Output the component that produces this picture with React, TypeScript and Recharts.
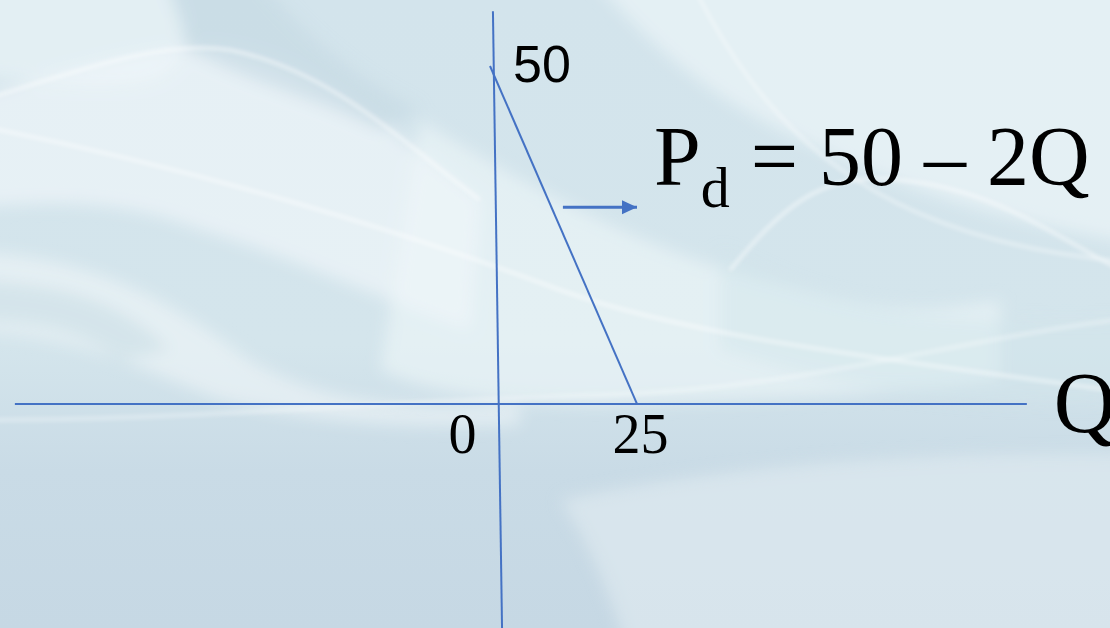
import React from "react";
import { ComposedChart, Line, XAxis, YAxis, ReferenceDot } from "recharts";

// Demand curve P = 50 - 2Q
const demandQ = [0, 25];
const demandP = [50, 0];
// Axis lines, in chart units
const horizAxisQ = [-80.8, 91.3];
const horizAxisP = [0, 0];
const vertAxisQ = [0.5, 2.05];
const vertAxisP = [58.1, -33.2];
// Arrow pointing to the equation
const arrowQ = [12.4, 25];
const arrowP = [29.1, 29.1];
// Tick labels
const xTickValues = [0, 25];
const xTickLabels = ["0", "25"];
const yTickValues = [50];
const yTickLabels = ["50"];
const axisName = "Q";
const equationMain = "P";
const equationSub = "d";
const equationRest = " = 50 – 2Q";

const zip = (qs: number[], ps: number[]) => qs.map((q, i) => ({ q, p: ps[i] }));
const demand = zip(demandQ, demandP);
const hAxis = zip(horizAxisQ, horizAxisP);
const vAxis = zip(vertAxisQ, vertAxisP);
const arrow = zip(arrowQ, arrowP);

const W = 1110;
const H = 628;
const BLUE = "#4472C4";
const SERIF = "'Liberation Serif', 'Times New Roman', serif";
const SANS = "'Liberation Sans', Arial, sans-serif";

const Background = () => (
  <svg width={W} height={H} style={{ position: "absolute", left: 0, top: 0 }}>
    <defs>
      <linearGradient id="bg" x1="0" y1="0" x2="0" y2="1">
        <stop offset="0" stopColor="#d3e4ec" />
        <stop offset="0.55" stopColor="#d4e5ec" />
        <stop offset="0.75" stopColor="#c9dbe6" />
        <stop offset="1" stopColor="#c6d8e4" />
      </linearGradient>
      <filter id="blur" x="-20%" y="-20%" width="140%" height="140%"><feGaussianBlur stdDeviation="8" /></filter>
      <filter id="blur2"><feGaussianBlur stdDeviation="2" /></filter>
    </defs>
    <rect width={W} height={H} fill="url(#bg)" />
    <g filter="url(#blur)">
      <path d="M-60 -60 L150 -60 C 190 30, 200 60, 150 80 C 100 90, 40 80, -60 75 Z" fill="#eaf4f7" opacity="0.7" />
      <path d="M-60 105 C 80 70, 160 40, 230 50 C 330 70, 400 140, 480 200 L 470 330 C 380 300, 300 260, 200 230 C 120 200, 60 200, -60 210 Z" fill="#f4f9fb" opacity="0.6" />
      <path d="M420 120 C 520 180, 620 240, 760 280 C 850 300, 900 320, 1000 300 L 1000 380 C 850 400, 700 400, 600 405 C 500 405, 420 390, 380 370 Z" fill="#eef6f8" opacity="0.6" />
      <path d="M560 -60 L1170 -60 L1170 250 C 980 220, 880 180, 780 130 C 700 90, 640 40, 560 -60 Z" fill="#f3f9fb" opacity="0.55" />
      <path d="M-60 250 C 90 250, 170 300, 250 360 C 320 400, 400 410, 520 405 L 520 425 C 400 430, 300 420, 220 400 C 140 370, 80 330, -60 330 Z" fill="#f2f8fa" opacity="0.55" />
      <path d="M560 500 C 750 460, 950 450, 1170 455 L1170 690 L640 690 C 610 590, 590 545, 560 500 Z" fill="#e2edf2" opacity="0.6" />
      <path d="M150 -60 L 230 -60 C 300 40, 360 80, 420 110 L 380 130 C 320 100, 240 80, 190 50 Z" fill="#c5d9e3" opacity="0.6" />
      <path d="M-60 280 C 60 280, 120 300, 170 350 L 120 360 C 80 330, 40 320, -60 320 Z" fill="#c6d9e4" opacity="0.5" />
      <path d="M720 250 C 820 300, 900 330, 1170 320 L 1170 400 C 950 410, 850 390, 720 350 Z" fill="#d1e6ec" opacity="0.5" />
    </g>
    <g filter="url(#blur2)">
      <path d="M-20 126 C 200 170, 400 230, 560 290 C 700 340, 900 360, 1130 393" stroke="#ffffff" strokeOpacity="0.6" strokeWidth="3" fill="none" />
      <path d="M730 270 C 780 210, 820 170, 900 180 C 1000 190, 1060 240, 1130 275" stroke="#ffffff" strokeOpacity="0.6" strokeWidth="3" fill="none" />
      <path d="M690 -20 C 760 120, 860 240, 1130 262" stroke="#ffffff" strokeOpacity="0.45" strokeWidth="3" fill="none" />
      <path d="M-20 101 C 80 70, 160 40, 230 50 C 330 70, 400 140, 480 200" stroke="#ffffff" strokeOpacity="0.6" strokeWidth="3" fill="none" />
      <path d="M-20 420 C 200 420, 400 400, 600 395 C 800 390, 950 340, 1130 318" stroke="#ffffff" strokeOpacity="0.35" strokeWidth="4" fill="none" />
    </g>
  </svg>
);

const ArrowHead = (props: any) => {
  const { cx, cy, index } = props;
  if (index !== arrow.length - 1 || cx == null) return <g key={`ah${index}`} />;
  return <polygon key={`ah${index}`} points={`${cx},${cy} ${cx - 15},${cy - 7} ${cx - 15},${cy + 7}`} fill={BLUE} />;
};

const textShape = (text: string, dx: number, dy: number, size: number, family: string, anchor: string) => (props: any) => (
  <text x={props.cx + dx} y={props.cy + dy} fontSize={size} fontFamily={family} textAnchor={anchor} fill="#000">
    {text}
  </text>
);

const equationShape = (props: any) => (
  <text x={props.cx + 17} y={props.cy - 22} fontSize={84} fontFamily={SERIF} fill="#000">
    {equationMain}
    <tspan fontSize={58} dy={22}>{equationSub}</tspan>
    <tspan dy={-22}>{equationRest}</tspan>
  </text>
);

export default function App() {
  return (
    <div style={{ position: "absolute", left: 0, top: 0, width: W, height: H, overflow: "hidden" }}>
      <Background />
      <div style={{ position: "absolute", left: 0, top: 0 }}>
        <ComposedChart width={W} height={H} margin={{ top: 0, right: 0, bottom: 0, left: 0 }}>
          <XAxis dataKey="q" type="number" domain={[-83.33, 105.44]} allowDataOverflow hide />
          <YAxis dataKey="p" type="number" domain={[-33.14, 59.76]} allowDataOverflow hide />
          <Line data={hAxis} dataKey="p" stroke={BLUE} strokeWidth={2} dot={false} activeDot={false} isAnimationActive={false} />
          <Line data={vAxis} dataKey="p" stroke={BLUE} strokeWidth={2} dot={false} activeDot={false} isAnimationActive={false} />
          <Line data={demand} dataKey="p" stroke={BLUE} strokeWidth={2} dot={false} activeDot={false} isAnimationActive={false} />
          <Line data={arrow} dataKey="p" stroke={BLUE} strokeWidth={3} dot={ArrowHead} activeDot={false} isAnimationActive={false} />
          {xTickValues.map((v, i) => (
            <ReferenceDot key={`xt${i}`} x={v} y={0} r={0} ifOverflow="visible"
              shape={textShape(xTickLabels[i], i === 0 ? -27.5 : 3.5, 49, 56, SERIF, "middle")} />
          ))}
          {yTickValues.map((v, i) => (
            <ReferenceDot key={`yt${i}`} x={0} y={v} r={0} ifOverflow="visible"
              shape={textShape(yTickLabels[i], 23, 16, 52, SANS, "start")} />
          ))}
          <ReferenceDot x={horizAxisQ[1]} y={0} r={0} ifOverflow="visible"
            shape={textShape(axisName, 27, 28, 86, SERIF, "start")} />
          <ReferenceDot x={arrowQ[1]} y={arrowP[1]} r={0} ifOverflow="visible" shape={equationShape} />
        </ComposedChart>
      </div>
    </div>
  );
}
